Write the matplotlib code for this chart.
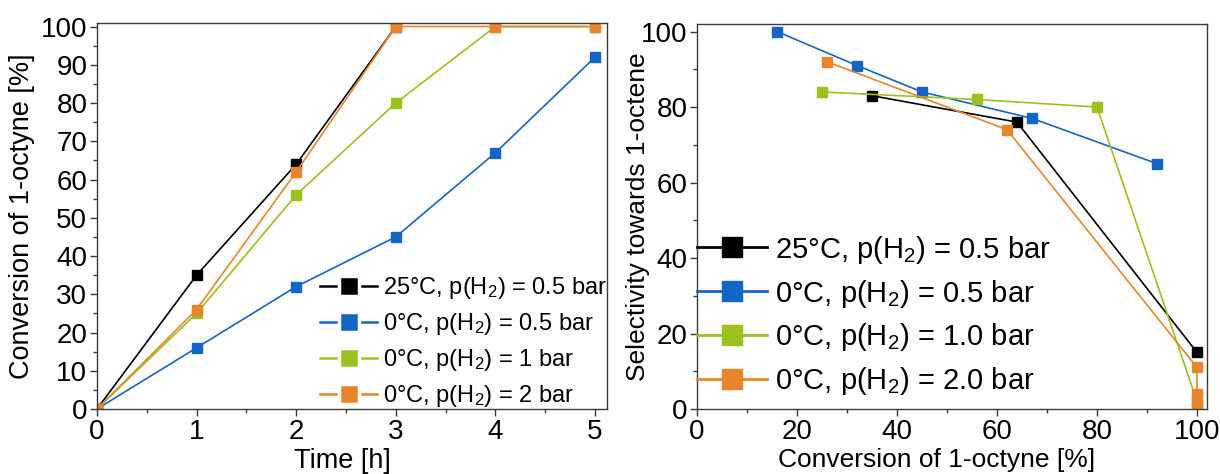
import matplotlib
matplotlib.use("Agg")
import matplotlib.pyplot as plt
from matplotlib.lines import Line2D
from matplotlib.ticker import MultipleLocator

plt.rcParams['font.family'] = ['Liberation Sans', 'DejaVu Sans']
plt.rcParams['mathtext.default'] = 'regular'

# ---------------- data ----------------
time_black = [0, 1, 2, 3]
conv_black = [0, 35, 64, 100]
time_blue = [0, 1, 2, 3, 4, 5]
conv_blue = [0, 16, 32, 45, 67, 92]
time_green = [0, 1, 2, 3, 4, 5]
conv_green = [0, 25, 56, 80, 100, 100]
time_orange = [0, 1, 2, 3, 4, 5]
conv_orange = [0, 26, 62, 100, 100, 100]

sel_conv_black = [35, 64, 100]
sel_black = [83, 76, 15]
sel_conv_blue = [16, 32, 45, 67, 92]
sel_blue = [100, 91, 84, 77, 65]
sel_conv_green = [25, 56, 80, 100, 100]
sel_green = [84, 82, 80, 2, 1]
sel_conv_orange = [26, 62, 100, 100, 100]
sel_orange = [92, 74, 11, 4, 1]

labels_left = ["25°C, p(H$_2$) = 0.5 bar", "0°C, p(H$_2$) = 0.5 bar",
               "0°C, p(H$_2$) = 1 bar", "0°C, p(H$_2$) = 2 bar"]
labels_right = ["25°C, p(H$_2$) = 0.5 bar", "0°C, p(H$_2$) = 0.5 bar",
                "0°C, p(H$_2$) = 1.0 bar", "0°C, p(H$_2$) = 2.0 bar"]

c_black = '#000000'
c_blue = '#1466C4'
c_green = '#9DC11C'
c_orange = '#E8852A'
colors = [c_black, c_blue, c_green, c_orange]

W, H = 1220, 474
fig = plt.figure(figsize=(W / 100, H / 100), dpi=100)

axL = fig.add_axes([97 / W, (H - 409) / H, 510 / W, 386.3 / H])
axR = fig.add_axes([697 / W, (H - 409) / H, 510 / W, 385 / H])

spine_col = '#3a3a3a'
for ax in (axL, axR):
    for s in ax.spines.values():
        s.set_color(spine_col)
        s.set_linewidth(1.0)
    ax.tick_params(which='both', direction='out', color=spine_col, top=False, right=False,
                   labelsize=20, width=1.0)
    ax.tick_params(which='major', length=5, pad=2)
    ax.tick_params(which='minor', length=3)

# ---------------- left plot ----------------
lw = 1.2
ms = 7.4
series_left = [(time_black, conv_black), (time_blue, conv_blue),
               (time_green, conv_green), (time_orange, conv_orange)]
for (x, y), c in zip(series_left, colors):
    axL.plot(x, y, color=c, lw=lw, marker='s', ms=ms, mec=c)

axL.set_xlim(0, 5.12)
axL.set_ylim(0, 101)
axL.xaxis.set_major_locator(MultipleLocator(1))
axL.xaxis.set_minor_locator(MultipleLocator(0.5))
axL.yaxis.set_major_locator(MultipleLocator(10))
axL.yaxis.set_minor_locator(MultipleLocator(5))
axL.set_xlabel("Time [h]", fontsize=19.5)
axL.set_ylabel("Conversion of 1-octyne [%]", fontsize=19.5)
axL.xaxis.set_label_coords(0.482, -0.101)
axL.yaxis.set_label_coords(-0.122, 0.5)

handlesL = [Line2D([], [], color=c, lw=1.8, marker='s', ms=15, mfc=c, mec='white', mew=2.5)
            for c in colors]
legL = axL.legend(handlesL, labels_left, loc='lower right', bbox_to_anchor=(1.0, 0.0),
                  frameon=False, fontsize=17, handlelength=2.4, handletextpad=0.25,
                  labelspacing=0.42, borderaxespad=0.0, borderpad=0.0)

# ---------------- right plot ----------------
series_right = [(sel_conv_black, sel_black), (sel_conv_blue, sel_blue),
                (sel_conv_green, sel_green), (sel_conv_orange, sel_orange)]
for (x, y), c in zip(series_right, colors):
    axR.plot(x, y, color=c, lw=lw, marker='s', ms=ms, mec=c)

axR.set_xlim(0, 102)
axR.set_ylim(0, 102)
axR.xaxis.set_major_locator(MultipleLocator(20))
axR.xaxis.set_minor_locator(MultipleLocator(10))
axR.yaxis.set_major_locator(MultipleLocator(20))
axR.yaxis.set_minor_locator(MultipleLocator(10))
axR.set_xlabel("Conversion of 1-octyne [%]", fontsize=19)
axR.set_ylabel("Selectivity towards 1-octene", fontsize=19)
axR.xaxis.set_label_coords(0.469, -0.101)
axR.yaxis.set_label_coords(-0.092, 0.5)

handlesR = [Line2D([], [], color=c, lw=2.0, marker='s', ms=14, mfc=c, mec=c)
            for c in colors]
legR = axR.legend(handlesR, labels_right, loc='lower left', bbox_to_anchor=(0.0, 0.03),
                  frameon=False, fontsize=21, handlelength=2.4, handletextpad=0.28,
                  labelspacing=0.41, borderaxespad=0.0, borderpad=0.0)

fig.savefig("out.png", dpi=100)
